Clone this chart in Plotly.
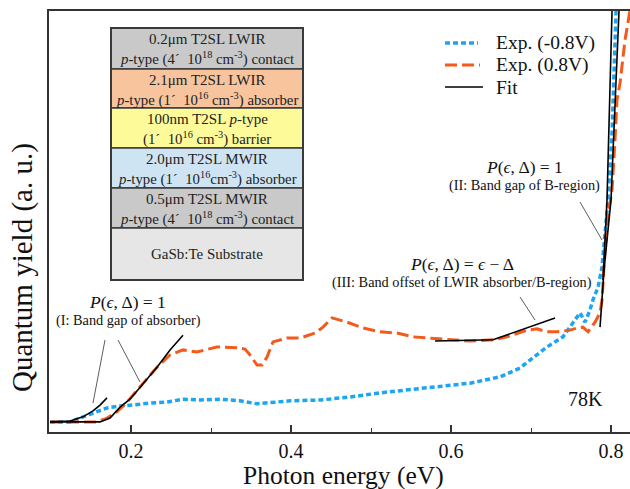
import plotly.graph_objects as go

# ---------------- data (photon energy in eV, quantum yield in a.u.) ----------------
blue_x = [0.0988, 0.1238, 0.14, 0.1575, 0.17, 0.1863, 0.2025, 0.2238, 0.245, 0.265, 0.2863, 0.3113,
          0.3363, 0.3575, 0.3775, 0.3988, 0.4363, 0.4738, 0.5113, 0.5488, 0.5863, 0.6238, 0.6613,
          0.6863, 0.6988, 0.72, 0.74, 0.7525, 0.7613, 0.7675, 0.7738, 0.7775, 0.7838, 0.7888,
          0.7925, 0.7963, 0.8013, 0.805, 0.8063]
blue_y = [2.4, 2.4, 3.6, 4.8, 5.7, 6.2, 6.4, 6.9, 7.1, 7.8, 7.6, 7.8, 7.4, 6.7, 7.1, 7.4, 7.6, 8.3,
          9.3, 10.0, 10.7, 11.6, 13.1, 15.2, 17.1, 20.2, 22.6, 25.9, 28.3, 26.1, 29.0, 31.4, 34.4,
          39.2, 48.0, 55.1, 71.0, 92.4, 100.0]

orange_x = [0.0988, 0.1575, 0.17, 0.1825, 0.195, 0.2113, 0.2325, 0.2488, 0.265, 0.2825, 0.3075,
            0.3325, 0.3425, 0.3488, 0.3575, 0.3638, 0.37, 0.3775, 0.395, 0.4113, 0.43, 0.44, 0.4513,
            0.47, 0.49, 0.5113, 0.5325, 0.5525, 0.5738, 0.5988, 0.6238, 0.6525, 0.67, 0.695, 0.7075,
            0.72, 0.7325, 0.7488, 0.7575, 0.765, 0.7713, 0.78, 0.7863, 0.7888, 0.7925, 0.7963,
            0.8013, 0.805, 0.8075, 0.8113, 0.8175, 0.8238]
orange_y = [2.4, 2.4, 3.3, 4.8, 7.1, 10.7, 15.4, 18.3, 19.5, 19.0, 20.2, 20.0, 19.7, 18.3, 15.9,
            15.9, 17.8, 21.4, 22.3, 22.3, 23.5, 24.9, 27.1, 26.1, 24.7, 23.8, 23.5, 22.6, 22.3, 21.9,
            21.6, 21.9, 22.6, 24.2, 24.5, 23.8, 23.8, 24.2, 24.7, 24.9, 23.8, 26.1, 28.3, 31.4, 43.2,
            51.5, 57.5, 69.4, 78.9, 82.9, 93.1, 100.2]

fits = {
    "I-a": ([0.0988, 0.1238, 0.14, 0.1525, 0.1613, 0.17], [2.4, 2.6, 3.6, 5.0, 6.4, 8.1]),
    "I-b": ([0.0988, 0.1613, 0.1738, 0.1863, 0.1988, 0.2113, 0.2325, 0.2488, 0.265],
            [2.4, 2.4, 3.3, 5.9, 7.8, 10.7, 15.4, 19.5, 23.0]),
    "III": ([0.58, 0.6525, 0.73], [21.6, 21.9, 27.1]),
    "II-a": ([0.79, 0.795, 0.8013], [36.1, 55.1, 100.0]),
    "II-b": ([0.7863, 0.7913, 0.8, 0.805, 0.81], [24.9, 38.5, 55.1, 78.9, 100.0]),
}

x_ticks = [0.2, 0.4, 0.6, 0.8]
x_tick_labels = ["0.2", "0.4", "0.6", "0.8"]

layers = [
    ("0.2\u03bcm T2SL LWIR", "<i>p</i>-type (4\u00b4  10<sup>18</sup> cm<sup>-3</sup>) contact", "#c9c9c9"),
    ("2.1\u03bcm T2SL LWIR", "<i>p</i>-type (1\u00b4  10<sup>16</sup> cm<sup>-3</sup>) absorber", "#f8c49d"),
    ("100nm T2SL <i>p</i>-type", "(1\u00b4  10<sup>16</sup> cm<sup>-3</sup>) barrier", "#fdfa9a"),
    ("2.0\u03bcm T2SL MWIR", "<i>p</i>-type (1\u00b4  10<sup>16</sup>cm<sup>-3</sup>) absorber", "#cfe4f3"),
    ("0.5\u03bcm T2SL MWIR", "<i>p</i>-type (4\u00b4  10<sup>18</sup> cm<sup>-3</sup>) contact", "#c9c9c9"),
    ("GaSb:Te Substrate", None, "#e6e6e6"),
]

FONT = "Liberation Serif"
W, H = 630, 489
ML, MR, MT, MB = 49, 0, 11, 57
PW, PH = W - ML - MR, H - MT - MB


def px(xp):
    return (xp - ML) / PW


def py(yp):
    return (H - MB - yp) / PH


def label(xp, yp, text, size, xanchor="center", angle=0, color="#111"):
    return dict(xref="paper", yref="paper", x=px(xp), y=py(yp), text=text, showarrow=False,
                xanchor=xanchor, yanchor="middle", textangle=angle,
                font=dict(family=FONT, size=size, color=color))


fig = go.Figure()
fig.add_trace(go.Scatter(x=blue_x, y=blue_y, mode="lines", name="Exp. (-0.8V)",
                         line=dict(color="#1ea5f2", width=3.5, dash="5px,3px")))
fig.add_trace(go.Scatter(x=orange_x, y=orange_y, mode="lines", name="Exp. (0.8V)",
                         line=dict(color="#f45a1c", width=3, dash="12px,5px")))
for k, (fx, fy) in fits.items():
    fig.add_trace(go.Scatter(x=fx, y=fy, mode="lines", name="Fit",
                             line=dict(color="black", width=1.6)))

shapes = []
annots = []

# layer stack
box_l, box_r = 111, 303
bounds = [28, 69, 108, 148, 188, 228, 280]
cx = (box_l + box_r) / 2
for i, (t1, t2, col) in enumerate(layers):
    y0, y1 = bounds[i], bounds[i + 1]
    shapes.append(dict(type="rect", xref="paper", yref="paper", x0=px(box_l), x1=px(box_r),
                       y0=py(y1), y1=py(y0), fillcolor=col, line=dict(color="#3a3a3a", width=1.5),
                       layer="above"))
    if t2 is None:
        annots.append(label(cx, (y0 + y1) / 2, t1, 15, color="#222"))
    else:
        annots.append(label(cx, y0 + 11, t1, 15, color="#222"))
        annots.append(label(cx, y0 + 30, t2, 14.8, color="#222"))
shapes.append(dict(type="rect", xref="paper", yref="paper", x0=px(box_l), x1=px(box_r),
                   y0=py(280), y1=py(28), line=dict(color="#3a3a3a", width=2), layer="above"))

# legend (manual)
leg = [("Exp. (-0.8V)", "#1ea5f2", 3.5, "5px,3px", 43, 478),
       ("Exp. (0.8V)", "#f45a1c", 3, "12px,5px", 65, 480),
       ("Fit", "black", 1.6, "solid", 87, 483)]
for name, col, w, d, yy, xe in leg:
    shapes.append(dict(type="line", xref="paper", yref="paper", x0=px(445), x1=px(xe), y0=py(yy), y1=py(yy),
                       line=dict(color=col, width=w, dash=d)))
    annots.append(label(494, yy, name, 19.5, xanchor="left"))

# leader lines
leaders = [((105, 340), (93, 403)), ((118, 340), (140, 382)), ((520, 297), (535, 320)), ((580, 202), (602, 240))]
for (a, b) in leaders:
    shapes.append(dict(type="line", xref="paper", yref="paper", x0=px(a[0]), y0=py(a[1]), x1=px(b[0]), y1=py(b[1]),
                       line=dict(color="#333", width=0.8)))

formula1 = "<i>P</i>(<i>\u03f5</i>, \u0394) = 1"
formula3 = "<i>P</i>(<i>\u03f5</i>, \u0394) = <i>\u03f5</i> \u2212 \u0394"
texts = [(formula1, 127, 302, 17.5), ("(I: Band gap of absorber)", 128, 320, 14.3),
         (formula1, 524, 167, 17.5), ("(II: Band gap of B-region)", 524, 185, 14.3),
         (formula3, 462, 264, 17.5), ("(III: Band offset of LWIR absorber/B-region)", 462, 283, 14.3),
         ("78K", 585, 399, 20)]
for t, x0, y0, s in texts:
    annots.append(label(x0, y0, t, s))

# axis titles
annots.append(label(22, 268, "Quantum yield (a. u.)", 29, angle=-90))
annots.append(label(343, 475.5, "Photon energy (eV)", 25.5))

fig.update_layout(
    width=W, height=H, margin=dict(l=ML, r=MR, t=MT, b=MB),
    paper_bgcolor="white", plot_bgcolor="white", showlegend=False,
    shapes=shapes, annotations=annots,
    xaxis=dict(range=[0.0975, 0.82375], tickvals=x_ticks, ticktext=x_tick_labels, ticks="inside",
               ticklen=7, tickwidth=1.5, tickcolor="#333", showline=True, linecolor="#333", linewidth=2,
               mirror=True, showgrid=False, zeroline=False,
               minor=dict(tickvals=[0.3, 0.5, 0.7], ticks="inside", ticklen=4, tickwidth=1.2, tickcolor="#333"),
               tickfont=dict(family=FONT, size=20, color="#111")),
    yaxis=dict(range=[0, 100], showticklabels=False, ticks="", showline=True, linecolor="#333", linewidth=2,
               mirror=False, showgrid=False, zeroline=False),
)

fig.write_html("out.html")
